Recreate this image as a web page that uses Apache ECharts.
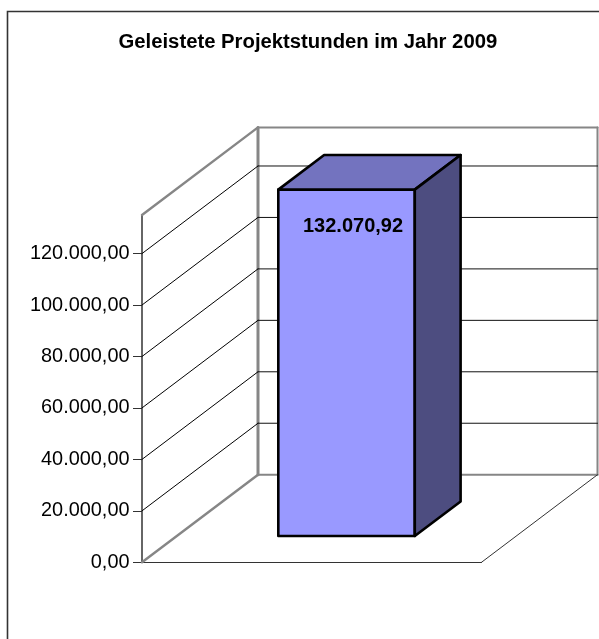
<!DOCTYPE html>
<html><head><meta charset="utf-8">
<style>html,body{margin:0;padding:0;background:#fff}#c{width:599px;height:639px}</style>
<script src="https://cdn.jsdelivr.net/npm/echarts@6/dist/echarts.min.js"></script>
</head><body><div id="c"></div>
<script>
const chartTitle = 'Geleistete Projektstunden im Jahr 2009';
const categories = ['2009'];
const hours = [132070.92];
const tickValues = [0, 20000, 40000, 60000, 80000, 100000, 120000];
const wallMax = 135000;
const barAxisMax = 132414;

const FONT = '"Liberation Sans", Arial, sans-serif';
const DX = 116, DY = -87.6;            // oblique depth of the 3D box
const BAR_D0 = 0.30, BAR_D1 = 0.695;   // bar's front/back depth fraction
const BAR_W = 0.402;                   // bar width as a share of the band
const WALL = '#868686', DARK = '#333333';

const de = v => v.toLocaleString('de-DE', {minimumFractionDigits: 2, maximumFractionDigits: 2});
const shift = (p, d) => [p[0] + DX * d, p[1] + DY * d];
const line = (a, b, color, width) => ({type: 'line', shape: {x1: a[0], y1: a[1], x2: b[0], y2: b[1]},
  style: {stroke: color, lineWidth: width, lineCap: 'round'}, silent: true});
const poly = (pts, fill) => ({type: 'polygon', shape: {points: pts},
  style: {fill, stroke: '#000', lineWidth: 2.6, lineJoin: 'round'}, silent: true});

function renderWalls(params, api) {
  const c = api.coord([0, 0]), t = api.coord([0, wallMax]), w = api.size([1, 0])[0];
  const a = [c[0] - w / 2, c[1]], b = [c[0] + w / 2, c[1]], top = [a[0], t[1]], topR = [b[0], t[1]];
  return {type: 'group', children: [
    line(shift(a, 1), shift(b, 1), WALL, 2),
    line(shift(top, 1), shift(topR, 1), WALL, 2),
    line(shift(b, 1), shift(topR, 1), WALL, 2),
    line(shift(a, 1), shift(top, 1), WALL, 3),
    line(top, shift(top, 1), WALL, 2.4),
    line(a, shift(a, 1), WALL, 2.4),
    line(b, shift(b, 1), DARK, 1)
  ]};
}
function renderGrid(params, api) {
  const v = api.value(1), c = api.coord([0, v]), w = api.size([1, 0])[0];
  const a = [c[0] - w / 2, c[1]], b = [c[0] + w / 2, c[1]];
  return {type: 'group', children: [
    line(a, shift(a, 1), '#000', 1),
    line(shift(a, 1), shift(b, 1), '#111', 1)
  ]};
}
function renderBar(params, api) {
  const v = api.value(1), c0 = api.coord([0, 0]), c1 = api.coord([0, v]), w = api.size([1, 0])[0] * BAR_W;
  const fbl = shift([c0[0] - w / 2, c0[1]], BAR_D0), fbr = shift([c0[0] + w / 2, c0[1]], BAR_D0);
  const ftl = shift([c1[0] - w / 2, c1[1]], BAR_D0), ftr = shift([c1[0] + w / 2, c1[1]], BAR_D0);
  const bd = BAR_D1 - BAR_D0;
  return {type: 'group', children: [
    poly([fbl, fbr, ftr, ftl], '#9999FF'),
    poly([ftl, ftr, shift(ftr, bd), shift(ftl, bd)], '#7373BF'),
    poly([fbr, shift(fbr, bd), shift(ftr, bd), ftr], '#4D4D80'),
    {type: 'text', silent: true, style: {text: de(v), x: (ftl[0] + ftr[0]) / 2 + 6.5, y: ftl[1] + 37,
      align: 'center', verticalAlign: 'middle', fill: '#000', font: 'bold 20px ' + FONT}}
  ]};
}

const chart = echarts.init(document.getElementById('c'));
chart.setOption({
  animation: false,
  backgroundColor: '#fff',
  title: {text: chartTitle, left: 113.5, top: 27,
    textStyle: {fontFamily: FONT, fontWeight: 'bold', fontSize: 20.3, color: '#000'}},
  grid: {left: 142, top: 215, width: 339.5, height: 347.3},
  xAxis: {type: 'category', data: categories, axisLabel: {show: false}, axisTick: {show: false},
    axisLine: {lineStyle: {color: DARK, width: 1}}, splitLine: {show: false}},
  yAxis: [
    {type: 'value', min: 0, max: wallMax, interval: 20000, splitLine: {show: false},
      axisLine: {show: true, lineStyle: {color: DARK, width: 1.5}},
      axisTick: {show: true, length: 9, customValues: tickValues, lineStyle: {color: DARK, width: 1}},
      axisLabel: {customValues: tickValues, margin: 12.5, formatter: v => de(v),
        fontFamily: FONT, fontSize: 19.9, color: '#000'}},
    {type: 'value', min: 0, max: barAxisMax, show: false, splitLine: {show: false}}
  ],
  series: [
    {type: 'custom', z: 1, clip: false, silent: true, yAxisIndex: 0, renderItem: renderWalls,
      data: [[0, wallMax]]},
    {type: 'custom', z: 2, clip: false, silent: true, yAxisIndex: 0, renderItem: renderGrid,
      data: tickValues.filter(v => v > 0).map(v => [0, v])},
    {type: 'custom', z: 3, clip: false, silent: true, yAxisIndex: 1, renderItem: renderBar,
      data: hours.map((v, i) => [i, v])}
  ],
  graphic: [
    {type: 'polyline', silent: true, shape: {points: [[7.5, 639], [7.5, 11.5], [599, 11.5]]},
      style: {stroke: DARK, lineWidth: 1.6, fill: null}}
  ]
});
</script></body></html>
